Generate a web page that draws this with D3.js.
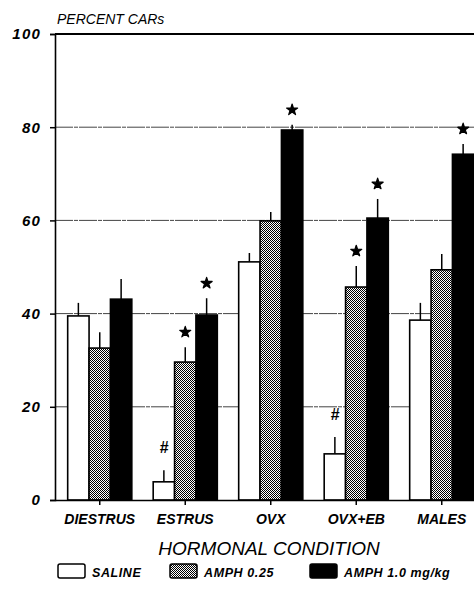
<!DOCTYPE html>
<html>
<head>
<meta charset="utf-8">
<script src="https://cdn.jsdelivr.net/npm/d3@7"></script>
<style>
  body { margin: 0; background: #fff; }
  text { font-family: "Liberation Sans", Arial, sans-serif; font-style: italic; fill: #000; }
</style>
</head>
<body>
<div id="chart"></div>
<script>
var categories = ["DIESTRUS", "ESTRUS", "OVX", "OVX+EB", "MALES"];
var seriesNames = ["SALINE", "AMPH 0.25", "AMPH 1.0 mg/kg"];
var yTicks = [0, 20, 40, 60, 80, 100];

var saline     = [39.5, 3.9, 51.1, 9.9, 38.6];
var salineErr  = [2.8, 2.5, 1.9, 3.6, 3.7];
var amph025    = [32.6, 29.6, 59.9, 45.7, 49.4];
var amph025Err = [3.4, 3.2, 1.9, 4.5, 3.4];
var amph10     = [43.1, 39.7, 79.4, 60.5, 74.2];
var amph10Err  = [4.3, 3.6, 1.1, 4.1, 2.2];

// significance marks: [category, series, symbol]
var marks = [
  ["ESTRUS", "SALINE", "#"],
  ["OVX+EB", "SALINE", "#"],
  ["ESTRUS", "AMPH 0.25", "*"],
  ["OVX+EB", "AMPH 0.25", "*"],
  ["ESTRUS", "AMPH 1.0 mg/kg", "*"],
  ["OVX", "AMPH 1.0 mg/kg", "*"],
  ["OVX+EB", "AMPH 1.0 mg/kg", "*"],
  ["MALES", "AMPH 1.0 mg/kg", "*"]
];

var width = 474, height = 602;

var svg = d3.select("#chart").append("svg")
    .attr("width", width).attr("height", height);

var defs = svg.append("defs");
var pat = defs.append("pattern")
    .attr("id", "stipple").attr("patternUnits", "userSpaceOnUse")
    .attr("width", 2).attr("height", 2);
pat.append("rect").attr("width", 2).attr("height", 2).attr("fill", "#fff");
pat.append("rect").attr("width", 1).attr("height", 1).attr("fill", "#000");
pat.append("rect").attr("x", 1).attr("y", 1).attr("width", 1).attr("height", 1).attr("fill", "#000");

var fills = {"SALINE": "#fff", "AMPH 0.25": "url(#stipple)", "AMPH 1.0 mg/kg": "#000"};

var y = d3.scaleLinear().domain([0, 100]).range([500, 34]);
var x0 = d3.scaleBand().domain(categories).range([57, 484.5])
    .paddingInner(0.25).paddingOuter(0.125);
var x1 = d3.scaleBand().domain(seriesNames).range([0, x0.bandwidth()]);

var rows = [];
categories.forEach(function(c, i) {
  rows.push({cat: c, s: "SALINE", v: saline[i], e: salineErr[i]});
  rows.push({cat: c, s: "AMPH 0.25", v: amph025[i], e: amph025Err[i]});
  rows.push({cat: c, s: "AMPH 1.0 mg/kg", v: amph10[i], e: amph10Err[i]});
});

// gridlines
svg.append("g").selectAll("line")
    .data(yTicks.filter(function(d) { return d > 0; }))
  .enter().append("line")
    .attr("x1", 55).attr("x2", width)
    .attr("y1", function(d) { return y(d); })
    .attr("y2", function(d) { return y(d); })
    .attr("stroke", function(d) { return d == 100 ? "#000" : "#444"; })
    .attr("stroke-width", function(d) { return d == 100 ? 2 : 1; })
    .attr("stroke-dasharray", function(d) { return d == 100 ? null : "18,1,4,1"; });

// error bars
svg.append("g").selectAll("line")
    .data(rows)
  .enter().append("line")
    .attr("x1", function(d) { return x0(d.cat) + x1(d.s) + x1.bandwidth() / 2; })
    .attr("x2", function(d) { return x0(d.cat) + x1(d.s) + x1.bandwidth() / 2; })
    .attr("y1", function(d) { return y(d.v); })
    .attr("y2", function(d) { return y(d.v + d.e); })
    .attr("stroke", "#000").attr("stroke-width", 1.5);

// bars
svg.append("g").selectAll("rect")
    .data(rows)
  .enter().append("rect")
    .attr("x", function(d) { return x0(d.cat) + x1(d.s); })
    .attr("y", function(d) { return y(d.v); })
    .attr("width", x1.bandwidth())
    .attr("height", function(d) { return y(0) - y(d.v); })
    .attr("fill", function(d) { return fills[d.s]; })
    .attr("stroke", "#000").attr("stroke-width", 1.6);

// significance marks
var lookup = {};
rows.forEach(function(r) { lookup[r.cat + "|" + r.s] = r; });
var star = d3.symbol().type(d3.symbolStar).size(38);
marks.forEach(function(m) {
  var r = lookup[m[0] + "|" + m[1]];
  var cx = x0(r.cat) + x1(r.s) + x1.bandwidth() / 2;
  var top = y(r.v + r.e);
  if (m[2] == "*") {
    svg.append("path").attr("d", star)
        .attr("transform", "translate(" + cx + "," + (top - 15) + ")")
        .attr("fill", "#000").attr("stroke", "#000").attr("stroke-width", 1.2)
        .attr("stroke-linejoin", "round");
  } else {
    svg.append("text").attr("x", cx).attr("y", top - 17)
        .attr("text-anchor", "middle").attr("font-size", 16)
        .attr("font-weight", "bold").text("#");
  }
});

// y axis
var yAxis = svg.append("g").attr("transform", "translate(55,0)")
    .call(d3.axisLeft(y).tickValues(yTicks).tickSize(5).tickPadding(9));
yAxis.select(".domain").attr("stroke", "#000").attr("stroke-width", 1.6);
yAxis.selectAll(".tick line").attr("stroke", "#000").attr("stroke-width", 1.5);
yAxis.selectAll(".tick text")
    .attr("font-size", 15).attr("font-weight", "bold").attr("letter-spacing", 1.2)
    .style("font-family", "'Liberation Sans', Arial, sans-serif").style("font-style", "italic");

// x axis
var xAxis = svg.append("g").attr("transform", "translate(0,500)")
    .call(d3.axisBottom(x0).tickSize(5).tickPadding(9));
xAxis.select(".domain").attr("d", "M55,0.5H" + width).attr("stroke", "#000").attr("stroke-width", 1.6);
xAxis.selectAll(".tick line").attr("stroke", "#000").attr("stroke-width", 1.5);
xAxis.selectAll(".tick text")
    .attr("font-size", 14).attr("font-weight", "bold")
    .style("font-family", "'Liberation Sans', Arial, sans-serif").style("font-style", "italic");

// titles
svg.append("text").attr("x", 57).attr("y", 24)
    .attr("font-size", 14).text("PERCENT CARs");
svg.append("text").attr("x", 269).attr("y", 555)
    .attr("text-anchor", "middle").attr("font-size", 19)
    .text("HORMONAL CONDITION");

// legend
var legendX = [58, 170, 310];
var lg = svg.append("g").selectAll("g")
    .data(seriesNames)
  .enter().append("g")
    .attr("transform", function(d, i) { return "translate(" + legendX[i] + ",564)"; });
lg.append("rect").attr("width", 27).attr("height", 14).attr("rx", 2)
    .attr("fill", function(d) { return fills[d]; })
    .attr("stroke", "#000").attr("stroke-width", 1.5);
lg.append("text").attr("x", 34).attr("y", 12.5)
    .attr("font-size", 12.5).attr("font-weight", "bold").attr("letter-spacing", 0.6)
    .text(function(d) { return d; });
</script>
</body>
</html>
